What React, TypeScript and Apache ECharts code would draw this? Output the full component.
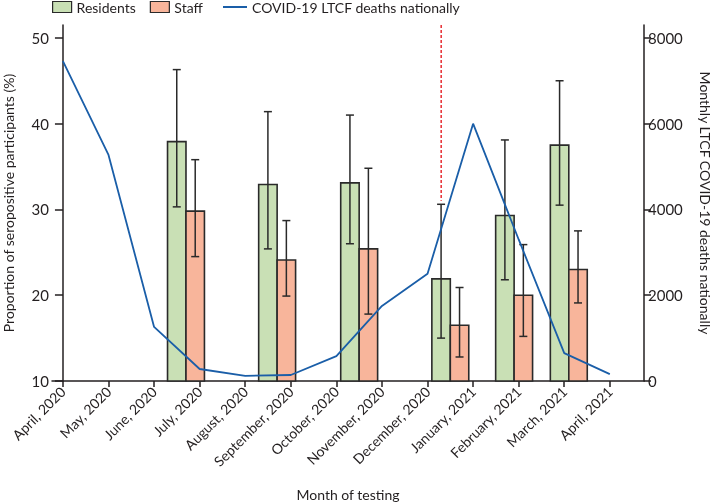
import React, { useEffect, useRef } from "react";
import * as echarts from "echarts";

const MONTHS = [
  "April, 2020", "May, 2020", "June, 2020", "July, 2020", "August, 2020",
  "September, 2020", "October, 2020", "November, 2020", "December, 2020",
  "January, 2021", "February, 2021", "March, 2021", "April, 2021",
];
const DEATHS = [7460, 5270, 1260, 280, 120, 140, 580, 1750, 2500, 6000, 3300, 650, 160];

// position of each testing round on the month axis (month index, fractional)
const TEST_POS = [2.7, 4.7, 6.5, 8.5, 9.9, 11.1];
const RESIDENTS = [37.9, 32.9, 33.1, 21.9, 29.3, 37.5];
const RESIDENTS_LO = [30.3, 25.4, 26.0, 15.0, 21.8, 30.5];
const RESIDENTS_HI = [46.3, 41.4, 41.0, 30.6, 38.1, 45.0];
const STAFF = [29.8, 24.1, 25.4, 16.5, 20.0, 23.0];
const STAFF_LO = [24.5, 19.9, 17.8, 12.8, 15.2, 19.1];
const STAFF_HI = [35.8, 28.7, 34.8, 20.9, 25.9, 27.5];

const LEFT_TICKS = [10, 20, 30, 40, 50];
const RIGHT_TICKS = [0, 2000, 4000, 6000, 8000];
const MONTH_TICKS = MONTHS.map((_, i) => i);

// vaccination-start marker (month index, y-range on left axis)
const MARKER_POS = 8.3;
const MARKER_RANGE = [31, 51.5];

const FONT = "Lato";
const INK = "#231f20";
const GREEN = "#c9e0b5";
const ORANGE = "#f8b59b";
const BLUE = "#1a5ea8";
const RED = "#e8383d";
const BAR_W = 0.405;
const Y_MIN = 10;
const Y_MAX = 51.5;

function barSeries(name: string, vals: number[], lo: number[], hi: number[], fill: string, side: number) {
  return {
    type: "custom",
    name,
    yAxisIndex: 0,
    z: 2,
    data: TEST_POS.map((x, i) => [x, vals[i], lo[i], hi[i]]),
    encode: { x: 0, y: [1, 2, 3] },
    itemStyle: { color: fill },
    renderItem: (params: any, api: any) => {
      const x = api.value(0);
      const v = api.value(1);
      const l = api.value(2);
      const h = api.value(3);
      const w = api.size([BAR_W, 0])[0];
      const p0 = api.coord([x, Y_MIN]);
      const pv = api.coord([x, v]);
      const pl = api.coord([x, l]);
      const ph = api.coord([x, h]);
      const left = side < 0 ? p0[0] - w : p0[0];
      const cx = left + w / 2;
      const cap = 4;
      const st = { stroke: "#2a2a2a", lineWidth: 1.5 };
      return {
        type: "group",
        children: [
          {
            type: "rect",
            shape: { x: left, y: pv[1], width: w, height: p0[1] - pv[1] },
            style: { fill, stroke: "#2a2a2a", lineWidth: 1.6 },
          },
          { type: "line", shape: { x1: cx, y1: ph[1], x2: cx, y2: pl[1] }, style: st },
          { type: "line", shape: { x1: cx - cap, y1: ph[1], x2: cx + cap, y2: ph[1] }, style: st },
          { type: "line", shape: { x1: cx - cap, y1: pl[1], x2: cx + cap, y2: pl[1] }, style: st },
        ],
      };
    },
  };
}

export default function App() {
  const ref = useRef<HTMLDivElement>(null);
  useEffect(() => {
    document.body.style.margin = "0";
    const chart = echarts.init(ref.current!, null, { renderer: "svg" });
    const axisLine = { show: true, lineStyle: { color: INK, width: 1.5 } };
    const option: any = {
      animation: false,
      textStyle: { fontFamily: FONT, color: INK },
      legend: [
        {
          left: 52,
          top: 0,
          padding: 0,
          itemWidth: 19,
          itemHeight: 11,
          itemGap: 14,
          textStyle: { fontFamily: FONT, fontSize: 14, color: INK },
          data: [
            { name: "Residents", icon: "rect", itemStyle: { color: GREEN, borderColor: "#2a2a2a", borderWidth: 1.2 } },
            { name: "Staff", icon: "rect", itemStyle: { color: ORANGE, borderColor: "#2a2a2a", borderWidth: 1.2 } },
          ],
        },
        {
          left: 223,
          top: 0,
          padding: 0,
          itemWidth: 24,
          itemHeight: 2,
          textStyle: { fontFamily: FONT, fontSize: 14, color: INK },
          data: [{ name: "COVID-19 LTCF deaths nationally", icon: "rect", itemStyle: { color: BLUE } }],
        },
      ],
      grid: { left: 52, right: 69, top: 25, bottom: 123, containLabel: false, outerBoundsMode: "none" },
      xAxis: {
        type: "value",
        min: -0.24,
        max: 12.75,
        name: "Month of testing",
        nameLocation: "middle",
        nameGap: 106,
        nameTextStyle: { fontFamily: FONT, fontSize: 14, color: INK },
        splitLine: { show: false },
        axisLine,
        axisTick: { show: true, length: 6, customValues: MONTH_TICKS, lineStyle: { color: INK, width: 1.5 } },
        axisLabel: {
          customValues: MONTH_TICKS,
          rotate: 45,
          margin: 8,
          fontSize: 14,
          color: INK,
          fontFamily: FONT,
          formatter: (v: number) => MONTHS[Math.round(v)],
        },
      },
      yAxis: [
        {
          type: "value",
          min: Y_MIN,
          max: Y_MAX,
          interval: 10,
          name: "Proportion of seropositive participants (%)",
          nameLocation: "middle",
          nameRotate: 90,
          nameGap: 37,
          nameTextStyle: { fontFamily: FONT, fontSize: 14, color: INK },
          splitLine: { show: false },
          axisLine,
          axisTick: { show: true, length: 8, customValues: LEFT_TICKS, lineStyle: { color: INK, width: 1.5 } },
          axisLabel: { customValues: LEFT_TICKS, margin: 3, fontSize: 15, color: INK, fontFamily: FONT },
        },
        {
          type: "value",
          min: 0,
          max: 8300,
          interval: 2000,
          position: "right",
          name: "Monthly LTCF COVID-19 deaths nationally",
          nameLocation: "middle",
          nameRotate: -90,
          nameGap: 54,
          nameTextStyle: { fontFamily: FONT, fontSize: 14, color: INK },
          splitLine: { show: false },
          axisLine,
          axisTick: { show: true, length: 7, customValues: RIGHT_TICKS, lineStyle: { color: INK, width: 1.5 } },
          axisLabel: {
            customValues: RIGHT_TICKS,
            margin: 4,
            fontSize: 15,
            color: INK,
            fontFamily: FONT,
            formatter: (v: number) => String(v),
          },
        },
      ],
      series: [
        barSeries("Residents", RESIDENTS, RESIDENTS_LO, RESIDENTS_HI, GREEN, -1),
        barSeries("Staff", STAFF, STAFF_LO, STAFF_HI, ORANGE, 1),
        {
          type: "line",
          name: "COVID-19 LTCF deaths nationally",
          yAxisIndex: 1,
          z: 5,
          symbol: "none",
          lineStyle: { color: BLUE, width: 1.8 },
          itemStyle: { color: BLUE },
          data: DEATHS.map((d, i) => [i, d]),
        },
        {
          type: "line",
          name: "marker",
          yAxisIndex: 0,
          z: 4,
          symbol: "none",
          silent: true,
          lineStyle: { color: RED, width: 1.6, type: [3, 2] },
          data: [
            [MARKER_POS, MARKER_RANGE[1]],
            [MARKER_POS, MARKER_RANGE[0]],
          ],
        },
      ],
    };
    chart.setOption(option);
    return () => chart.dispose();
  }, []);
  return <div ref={ref} style={{ width: 713, height: 504, position: "fixed", left: 0, top: 0 }} />;
}
